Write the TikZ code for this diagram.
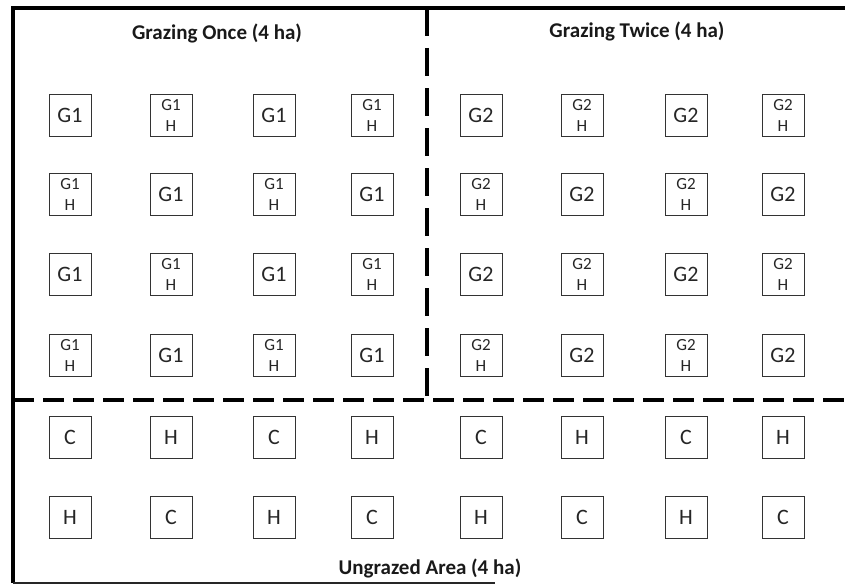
\documentclass[tikz,border=0pt]{standalone}
\usepackage{fontspec}
\setmainfont{Carlito}
\begin{document}
\begin{tikzpicture}[x=1pt,y=-1pt,
  plot/.style={draw=black!80,line width=1pt,minimum width=42pt,minimum height=42pt,
    inner sep=0pt,font=\fontsize{22}{24}\selectfont,text=black!85},
  subplot/.style={plot,align=center,font=\fontsize{17}{21}\selectfont},
  title/.style={font=\bfseries\fontsize{21}{24}\selectfont,text=black!90},
  frame/.style={line width=3.2pt,black},
  hdash/.style={line width=3.4pt,black,dash pattern=on 21pt off 9pt},
  vdash/.style={line width=3.4pt,black,dash pattern=on 28pt off 12pt}]
\useasboundingbox (0,0) rectangle (845,586);

% outer boundary
\coordinate (tl) at (13,8);
\coordinate (tr) at (845,8);
\coordinate (bl) at (13,583);
\coordinate (br) at (495,583);
\draw[frame] (tr) -- (tl) -- (bl);
\draw[line width=2.4pt,black!85] (bl) -- (br);

% paddock divisions
\coordinate (vt) at (427,8);
\coordinate (vb) at (427,396);
\coordinate (hl) at (13,400);
\coordinate (hr) at (845,400);
\draw[vdash] (vt) -- (vb);
\draw[hdash] (hl) -- (hr);

% titles
\node[title] (t1) at (217,33) {Grazing Once (4 ha)};
\node[title] (t2) at (637,31) {Grazing Twice (4 ha)};
\node[title] (t3) at (430,568) {Ungrazed Area (4 ha)};

% column positions
\def\cA{70}\def\cB{171}\def\cC{274}\def\cD{372}
\def\cE{481}\def\cF{582}\def\cG{686}\def\cH{783}

% grazed once / twice, rows 1 to 4
\foreach \r/\y in {1/115,3/274}{
  \node[plot]    (a\r) at (\cA,\y) {G1};
  \node[subplot] (b\r) at (\cB,\y) {G1\\H};
  \node[plot]    (c\r) at (\cC,\y) {G1};
  \node[subplot] (d\r) at (\cD,\y) {G1\\H};
  \node[plot]    (e\r) at (\cE,\y) {G2};
  \node[subplot] (f\r) at (\cF,\y) {G2\\H};
  \node[plot]    (g\r) at (\cG,\y) {G2};
  \node[subplot] (h\r) at (\cH,\y) {G2\\H};
}
\foreach \r/\y in {2/194,4/355}{
  \node[subplot] (a\r) at (\cA,\y) {G1\\H};
  \node[plot]    (b\r) at (\cB,\y) {G1};
  \node[subplot] (c\r) at (\cC,\y) {G1\\H};
  \node[plot]    (d\r) at (\cD,\y) {G1};
  \node[subplot] (e\r) at (\cE,\y) {G2\\H};
  \node[plot]    (f\r) at (\cF,\y) {G2};
  \node[subplot] (g\r) at (\cG,\y) {G2\\H};
  \node[plot]    (h\r) at (\cH,\y) {G2};
}

% ungrazed area, rows 5 and 6
\foreach \n/\x in {a/\cA,c/\cC,e/\cE,g/\cG}{
  \node[plot] (\n5) at (\x,437) {C};
  \node[plot] (\n6) at (\x,517) {H};
}
\foreach \n/\x in {b/\cB,d/\cD,f/\cF,h/\cH}{
  \node[plot] (\n5) at (\x,437) {H};
  \node[plot] (\n6) at (\x,517) {C};
}
\end{tikzpicture}
\end{document}
